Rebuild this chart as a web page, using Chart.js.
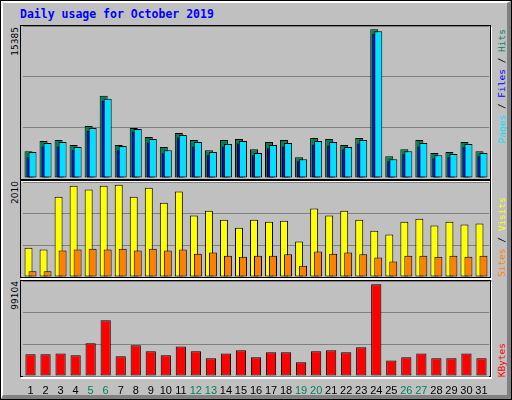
<!DOCTYPE html>
<html><head><meta charset="utf-8">
<script src="https://cdn.jsdelivr.net/npm/chart.js@4/dist/chart.umd.min.js"></script>
<style>
html,body{margin:0;padding:0;background:#c0c0c0;}
#outer{position:absolute;left:0;top:0;width:512px;height:400px;box-sizing:border-box;border:1px solid #000;}
#inner{position:absolute;left:0;top:0;right:0;bottom:0;border-top:2px solid #fff;border-left:2px solid #fff;border-right:4px solid #808080;border-bottom:4px solid #808080;}
.frame{position:absolute;box-sizing:border-box;border:1px solid #000;box-shadow:1px 2px 0 #fff;}
.cv{position:absolute;}
#title{position:absolute;left:20px;top:7px;font:bold 11.5px "DejaVu Sans Mono",monospace;color:#0000ff;white-space:nowrap;}
.yl{position:absolute;writing-mode:vertical-rl;transform:rotate(180deg);font:9px "DejaVu Sans",sans-serif;color:#000;left:10px;}
.rl{position:absolute;writing-mode:vertical-rl;transform:rotate(180deg);font:9.5px "DejaVu Sans Mono",monospace;left:496px;white-space:nowrap;}
</style></head><body>
<div id="outer"><div id="inner"></div></div>
<div id="title">Daily usage for October 2019</div>
<div class="frame" style="left:20px;top:25px;width:471px;height:155px"></div>
<div class="frame" style="left:20px;top:180px;width:471px;height:98px"></div>
<div class="frame" style="left:20px;top:280px;width:471px;height:97px"></div>
<div class="cv" style="left:23px;top:26px;width:466px;height:152px"><canvas id="c1"></canvas></div>
<div class="cv" style="left:23px;top:182px;width:466px;height:95px"><canvas id="c2"></canvas></div>
<div class="cv" style="left:23px;top:281px;width:466px;height:116px"><canvas id="c3"></canvas></div>
<div class="yl" id="l1" style="top:27px"></div>
<div class="yl" id="l2" style="top:181px"></div>
<div class="yl" id="l3" style="top:281px"></div>
<div class="rl" style="top:29px"><span style="color:#00e0ff">Pages</span> / <span style="color:#0000ff">Files</span> / <span style="color:#00805c">Hits</span></div>
<div class="rl" style="bottom:123px"><span style="color:#ff8000">Sites</span> / <span style="color:#ffff00">Visits</span></div>
<div class="rl" style="bottom:23px"><span style="color:#ff0000">KBytes</span></div>
<script>
const days = ["1","2","3","4","5","6","7","8","9","10","11","12","13","14","15","16","17","18","19","20","21","22","23","24","25","26","27","28","29","30","31"];
const weekendDays = ["5","6","12","13","19","20","26","27"];
const hits  = [2720,3740,3840,3330,5270,8320,3330,5060,4150,3130,4550,3840,2820,3840,3940,2920,3640,3840,2110,4050,3940,3330,4050,15050,2210,2920,3840,2520,2620,3640,2720];
const pages = [2620,3540,3640,3130,5060,8020,3230,4960,3940,2820,4350,3640,2620,3430,3740,2520,3330,3540,1900,3740,3640,3130,3840,14850,1900,2720,3540,2310,2420,3430,2520];
const files = [2100,3200,3200,2800,4750,7800,2800,4700,3600,2500,4100,3200,2300,3200,3500,2300,3000,3200,1700,3400,3300,2900,3500,14600,1700,2400,3200,2000,2100,3100,2200];
const visits = [620,580,1700,1930,1850,1930,1950,1700,1890,1570,1810,1300,1400,1210,1040,1210,1170,1190,750,1450,1300,1400,1210,980,900,1170,1230,1090,1170,1110,1130];
const sites  = [120,120,560,580,600,580,600,560,600,560,580,490,520,450,430,450,450,480,240,540,490,520,480,410,330,450,450,430,450,430,450];
const kbytes = [22600,22600,23600,21600,34100,58100,20500,32000,25700,21600,30900,25700,18400,23600,26800,19500,24700,24700,14300,25700,26800,24700,29900,95600,16300,19500,23600,18400,18400,23600,18400];
const maxLabels = ["15385","2010","99104"];
const maxVals = [15385,2010,99104];

document.getElementById('l1').textContent = maxLabels[0];
document.getElementById('l2').textContent = maxLabels[1];
document.getElementById('l3').textContent = maxLabels[2];

const drawForward = {id:'fwd', beforeDatasetsDraw(chart){
  const a = chart.chartArea, ctx = chart.ctx;
  ctx.save(); ctx.beginPath(); ctx.rect(a.left-2,a.top-2,a.right-a.left+4,a.bottom-a.top+4); ctx.clip();
  for (const m of chart.getSortedVisibleDatasetMetas()) m.controller.draw();
  ctx.restore(); return false; }};

function yScale(max){
  return {min:0,max:max,afterFit:s=>{s.width=0;},
    afterBuildTicks:s=>{s.ticks=[0,1,2,3].map(i=>({value:max*i/3}));},
    ticks:{display:false},border:{display:false},
    grid:{color:'#808080',lineWidth:1,drawTicks:false}};
}
function ds(data,color){return {data:data,backgroundColor:color,borderColor:'#000',borderWidth:1,borderSkipped:false};}
const base = {responsive:true,maintainAspectRatio:false,animation:false,
  layout:{padding:0},plugins:{legend:{display:false},tooltip:{enabled:false}},events:[]};

new Chart(document.getElementById('c1'),{type:'bar',
  data:{labels:days,datasets:[ds(hits,'#00805c'),ds(files,'#0000ff'),ds(pages,'#00e0ff')]},
  options:Object.assign({},base,{datasets:{bar:{categoryPercentage:0.4,barPercentage:4}},
    scales:{x:{display:false},y:yScale(maxVals[0])}}),plugins:[drawForward]});

new Chart(document.getElementById('c2'),{type:'bar',
  data:{labels:days,datasets:[ds(visits,'#ffff00'),ds(sites,'#ff8000')]},
  options:Object.assign({},base,{datasets:{bar:{categoryPercentage:0.53,barPercentage:2}},
    scales:{x:{display:false},y:yScale(maxVals[1])}}),plugins:[drawForward]});

new Chart(document.getElementById('c3'),{type:'bar',
  data:{labels:days,datasets:[ds(kbytes,'#ff0000')]},
  options:Object.assign({},base,{datasets:{bar:{categoryPercentage:1,barPercentage:0.68}},
    scales:{x:{afterFit:s=>{s.height=21;},grid:{display:false},border:{display:false},
      ticks:{padding:0,maxRotation:0,autoSkip:false,font:{family:'Liberation Sans',size:11},
        color:c=>weekendDays.includes(days[c.index])?'#008060':'#000'}},
      y:yScale(maxVals[2])}}),plugins:[drawForward]});
</script></body></html>
